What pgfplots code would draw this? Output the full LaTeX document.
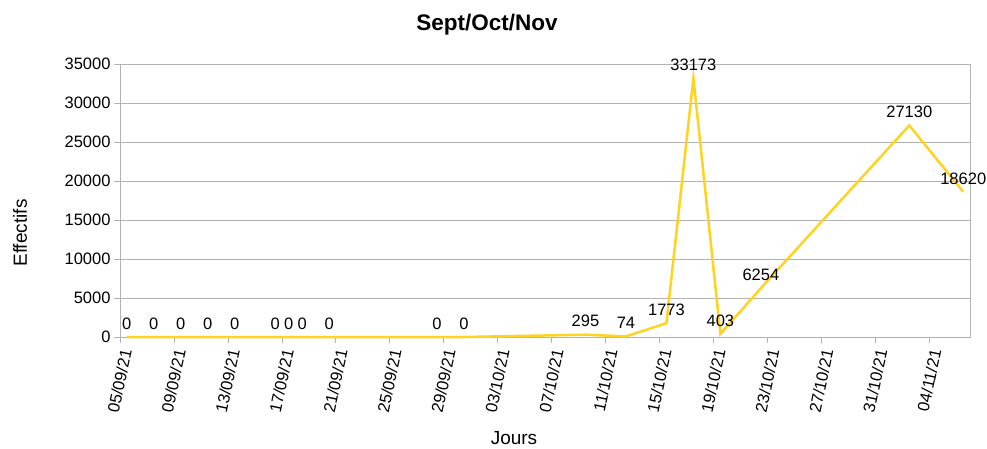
\documentclass[border=0pt]{standalone}
\usepackage{pgfplots}
\pgfplotsset{compat=1.18}
\usepackage{fontspec}
\setmainfont{Liberation Sans}
\definecolor{serie}{HTML}{FFD320}
\definecolor{grille}{HTML}{B3B3B3}

\begin{document}
\begin{tikzpicture}
\useasboundingbox (-120pt,-111pt) rectangle (867pt,337pt);
\begin{axis}[
  scale only axis, width=850pt, height=273pt,
  xmin=0, xmax=63, ymin=0, ymax=35000,
  xtick={0,4,...,60},
  xticklabels={05/09/21,09/09/21,13/09/21,17/09/21,21/09/21,25/09/21,29/09/21,03/10/21,07/10/21,11/10/21,15/10/21,19/10/21,23/10/21,27/10/21,31/10/21,04/11/21},
  ytick={0,5000,...,35000},
  scaled y ticks=false,
  ymajorgrids, grid style={grille, line width=0.8pt},
  axis line style={grille, line width=0.8pt},
  tick style={grille, line width=0.8pt},
  tick align=outside, major tick length=6pt,
  xtick pos=bottom, ytick pos=left,
  /pgf/number format/1000 sep={},
  /pgf/number format/assume math mode=true,
  x tick label style={xshift=7pt, yshift=-3pt, rotate=78, anchor=east, font=\fontsize{16.5}{18}\selectfont},
  y tick label style={font=\fontsize{16.5}{18}\selectfont},
  clip=false,
  nodes near coords,
  nodes near coords style={font=\fontsize{16.5}{18}\selectfont, text=black, anchor=south, yshift=3pt},
]
\addplot[serie, line width=2.5pt] table {
x y
0.5 0
2.5 0
4.5 0
6.5 0
8.5 0
11.5 0
12.5 0
13.5 0
15.5 0
23.5 0
25.5 0
34.5 295
37.5 74
40.5 1773
42.5 33173
44.5 403
47.5 6254
58.5 27130
62.5 18620
};
\end{axis}
\node[font=\bfseries\fontsize{22.5}{25}\selectfont] at (367pt,312pt) {Sept/Oct/Nov};
\node[rotate=90, font=\fontsize{19}{21}\selectfont] at (-100pt,104pt) {Effectifs};
\node[font=\fontsize{19}{21}\selectfont] at (394pt,-101pt) {Jours};
\end{tikzpicture}
\end{document}
